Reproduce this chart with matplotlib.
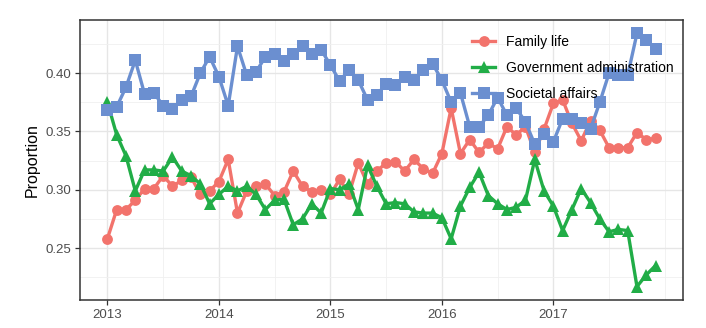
import numpy as np
import matplotlib
matplotlib.use('Agg')
import matplotlib.pyplot as plt
from matplotlib.ticker import MultipleLocator, FixedLocator

plt.rcParams['font.family'] = ['Liberation Sans', 'DejaVu Sans']

# Месячные доли тем, январь 2013 - декабрь 2017
family_life = [
    0.258, 0.283, 0.283, 0.291, 0.301, 0.301, 0.312, 0.303, 0.308, 0.311,
    0.296, 0.299, 0.307, 0.326, 0.280, 0.299, 0.303, 0.305, 0.295, 0.298,
    0.316, 0.303, 0.298, 0.300, 0.296, 0.309, 0.296, 0.323, 0.305, 0.316,
    0.323, 0.324, 0.316, 0.326, 0.318, 0.314, 0.331, 0.370, 0.331, 0.343,
    0.332, 0.340, 0.335, 0.354, 0.347, 0.354, 0.332, 0.352, 0.374, 0.377,
    0.357, 0.342, 0.359, 0.351, 0.336, 0.336, 0.336, 0.349, 0.343, 0.344,
]
government_admin = [
    0.375, 0.347, 0.329, 0.299, 0.317, 0.317, 0.316, 0.328, 0.316, 0.312,
    0.305, 0.288, 0.296, 0.303, 0.299, 0.303, 0.296, 0.283, 0.291, 0.292,
    0.270, 0.275, 0.288, 0.280, 0.301, 0.300, 0.305, 0.283, 0.321, 0.303,
    0.288, 0.289, 0.288, 0.281, 0.280, 0.280, 0.276, 0.258, 0.286, 0.302,
    0.315, 0.295, 0.288, 0.283, 0.285, 0.291, 0.326, 0.299, 0.286, 0.265,
    0.283, 0.301, 0.289, 0.275, 0.264, 0.266, 0.265, 0.217, 0.227, 0.235,
]
societal_affairs = [
    0.368, 0.371, 0.388, 0.411, 0.382, 0.383, 0.372, 0.369, 0.377, 0.380,
    0.400, 0.414, 0.397, 0.372, 0.423, 0.398, 0.401, 0.414, 0.416, 0.410,
    0.416, 0.423, 0.416, 0.420, 0.407, 0.393, 0.403, 0.394, 0.377, 0.381,
    0.391, 0.390, 0.397, 0.394, 0.403, 0.408, 0.394, 0.375, 0.383, 0.354,
    0.354, 0.364, 0.379, 0.364, 0.370, 0.358, 0.339, 0.348, 0.341, 0.361,
    0.361, 0.357, 0.352, 0.375, 0.400, 0.398, 0.398, 0.434, 0.428, 0.421,
]
years = [2013, 2014, 2015, 2016, 2017]

dates = 2013 + np.arange(len(family_life)) / 12

series = [
    ('Family life', family_life, '#F2736C', 'o', 7.8),
    ('Government administration', government_admin, '#21AD47', '^', 9.2),
    ('Societal affairs', societal_affairs, '#6B8FD0', 's', 8.0),
]

fig = plt.figure(figsize=(7.06, 3.28), dpi=100)
ax = fig.add_axes([80 / 706, 28 / 328, 603 / 706, 280 / 328])

for name, values, color, marker, size in series:
    ax.plot(dates, values, '-', color=color, lw=2.4, marker=marker,
            markersize=size, markeredgewidth=0, label=name)

ax.set_xlim(2012.754, 2018.163)
ax.set_ylim(0.2055, 0.4455)
ax.xaxis.set_major_locator(FixedLocator(years))
ax.xaxis.set_minor_locator(FixedLocator([y + 0.5 for y in years] + [2018]))
ax.yaxis.set_major_locator(MultipleLocator(0.05))
ax.yaxis.set_minor_locator(MultipleLocator(0.025))
ax.yaxis.set_major_formatter(plt.FormatStrFormatter('%.2f'))
ax.grid(which='major', color='#E6E6E6', lw=1.0)
ax.grid(which='minor', color='#F0F0F0', lw=0.6)
ax.set_axisbelow(True)

for side in ax.spines.values():
    side.set_color('#333333')
    side.set_linewidth(1.1)
ax.tick_params(which='major', length=3.5, width=0.9, color='#333333',
               labelcolor='#4D4D4D', labelsize=9.5, pad=3)
ax.tick_params(which='minor', length=0)
ax.set_ylabel('Proportion', fontsize=11.5, color='black', labelpad=4)

ax.legend(loc='upper left', bbox_to_anchor=(0.63, 0.99), frameon=False,
          fontsize=10, handlelength=1.6, labelspacing=0.85, handletextpad=0.8)

fig.savefig('out.png', dpi=100)
